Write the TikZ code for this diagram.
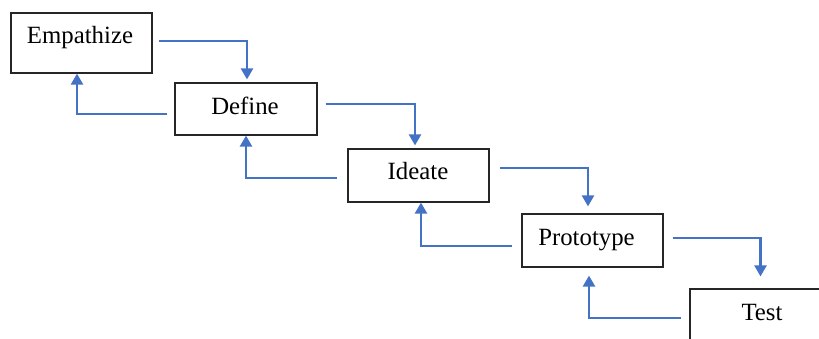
\documentclass[tikz,border=0pt]{standalone}
\usepackage{fontspec}
\setmainfont{Liberation Serif}
\usetikzlibrary{arrows.meta}
\definecolor{offblue}{HTML}{4472C4}
\tikzset{
  box/.style={draw=black!85, line width=1.2pt, rectangle, inner sep=0pt, minimum width=141pt, minimum height=53pt},
  lbl/.style={anchor=base, inner sep=0pt, font=\fontsize{24.8}{28}\selectfont},
  arr/.style={draw=offblue, line width=2.4pt, -{Triangle[width=12pt,length=11pt]}},
}
\begin{document}
\begin{tikzpicture}[x=1pt,y=-1pt]
\useasboundingbox (0,0) rectangle (819,338);
\clip (0,0) rectangle (819,338);
\node[box, minimum height=60pt] (emp) at (81.5,43) {};
\node[box, minimum width=142pt, minimum height=52pt] (def) at (246,109) {};
\node[box] (ide) at (418.5,175.5) {};
\node[box] (pro) at (592.5,240.5) {};
\node[box] (test) at (760.5,315.5) {};
\node[lbl] (empT) at (80,43) {Empathize};
\node[lbl] (defT) at (245,114) {Define};
\node[lbl] (ideT) at (418,179) {Ideate};
\node[lbl] (proT) at (586.5,245) {Prototype};
\node[lbl] (testT) at (762,320) {Test};
% forward arrows
\draw[arr] ([xshift=6pt,yshift=2pt]emp.east) -| ([xshift=1pt,yshift=3pt]def.north);
\draw[arr] ([xshift=8pt,yshift=5pt]def.east) -| ([xshift=-3.5pt,yshift=3pt]ide.north);
\draw[arr] ([xshift=10pt,yshift=7.5pt]ide.east) -| ([xshift=-4.5pt,yshift=7pt]pro.north);
\draw[arr] ([xshift=9pt,yshift=2.5pt]pro.east) -| ([xshift=0pt,yshift=12pt]test.north);
% backward arrows
\draw[arr] ([xshift=-7pt,yshift=-5pt]def.west) -| ([xshift=-4.5pt]emp.south);
\draw[arr] ([xshift=-10pt,yshift=-2.5pt]ide.west) -| (def.south);
\draw[arr] ([xshift=-9pt,yshift=-5.5pt]pro.west) -| ([xshift=2.5pt]ide.south);
\draw[arr] ([xshift=-8pt,yshift=-2.5pt]test.west) -| ([xshift=-3.5pt,yshift=-8pt]pro.south);
\end{tikzpicture}
\end{document}
